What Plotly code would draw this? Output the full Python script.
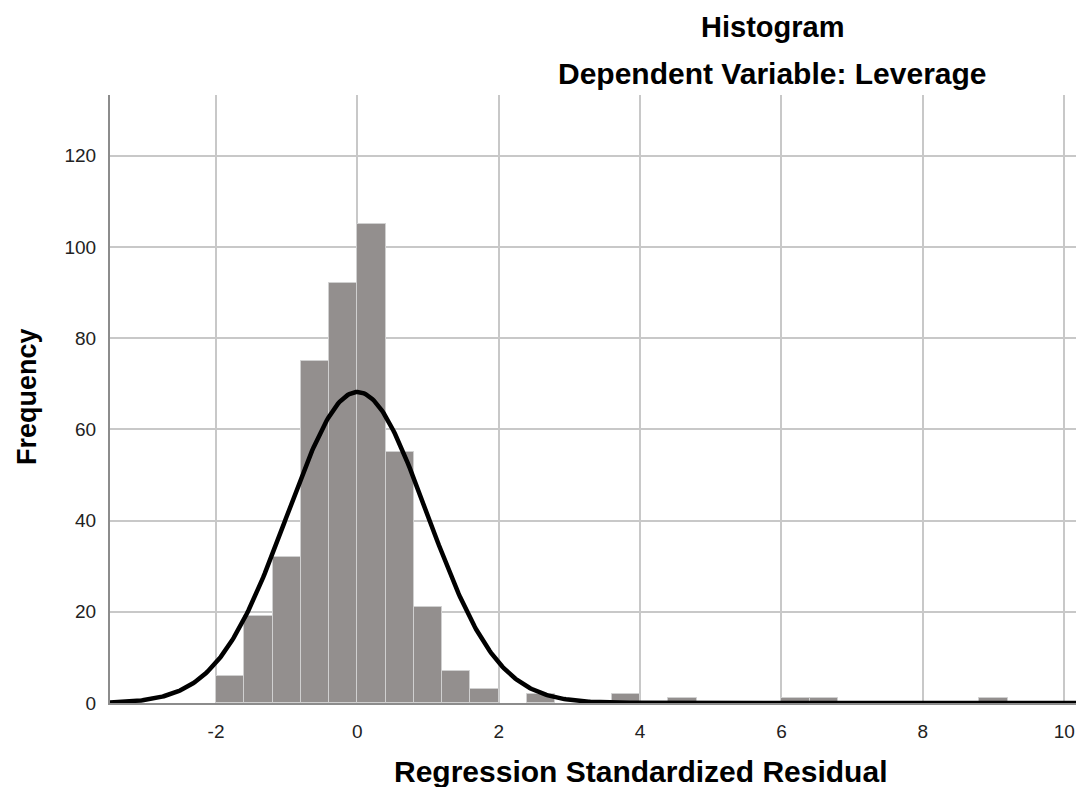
import numpy as np
import plotly.graph_objects as go

# Histogram data (bin centers, width 0.4)
bin_centers = [-1.8, -1.4, -1.0, -0.6, -0.2, 0.2, 0.6, 1.0, 1.4, 1.8, 2.6, 3.8, 4.6, 6.2, 6.6, 9.0]
counts = [6, 19, 32, 75, 92, 105, 55, 21, 7, 3, 2, 2, 1, 1, 1, 1]
bin_width = 0.4

# Normal curve parameters
resid_mean = 0.0
resid_sd = 0.99
n_obs = sum(counts)

x_ticks = [-2, 0, 2, 4, 6, 8, 10]
y_ticks = [0, 20, 40, 60, 80, 100, 120]

xs = np.linspace(-3.5, 10.3, 600)
ys = n_obs * bin_width / (resid_sd * np.sqrt(2 * np.pi)) * np.exp(-0.5 * ((xs - resid_mean) / resid_sd) ** 2)

fig = go.Figure()
fig.add_trace(go.Bar(
    x=bin_centers, y=counts, width=bin_width,
    marker=dict(color="#938f8e", line=dict(color="#d0d0d0", width=1)),
    showlegend=False, hoverinfo="x+y",
))
fig.add_trace(go.Scatter(
    x=xs, y=ys, mode="lines", line=dict(color="black", width=4.5),
    showlegend=False, hoverinfo="skip",
))

font_family = "Liberation Sans, Arial, sans-serif"
# page body has an 8px margin; plot area in page pixels: x 110..1084, y 95..703
L, T, B = 102, 87, 84
W, H = 1076, 779
PX0, PX1, PY0, PY1 = 110, 1084, 95, 703


def px2paper(px, py):
    return (px - PX0) / (PX1 - PX0), (PY1 - py) / (PY1 - PY0)


annots = []
for text, px, py, size, angle in [
    ("<b>Histogram</b>", 772, 27, 29, 0),
    ("<b>Dependent Variable: Leverage</b>", 772, 74, 30, 0),
    ("<b>Regression Standardized Residual</b>", 640, 771, 30, 0),
    ("<b>Frequency</b>", 27, 397, 27, -90),
]:
    ax, ay = px2paper(px, py)
    annots.append(dict(text=text, x=ax, y=ay, xref="paper", yref="paper", showarrow=False,
                       xanchor="center", yanchor="middle", textangle=angle,
                       font=dict(size=size, color="black", family=font_family)))

fig.update_layout(
    width=W, height=H,
    margin=dict(l=L, r=0, t=T, b=B),
    plot_bgcolor="white", paper_bgcolor="white",
    bargap=0,
    font=dict(family=font_family, size=19, color="#222222"),
    xaxis=dict(
        range=[-3.5, 10.28], tickvals=x_ticks, ticktext=[str(v) for v in x_ticks],
        showgrid=True, gridcolor="#c8c8c8", gridwidth=1.5, zeroline=False,
        showline=True, linecolor="#8c8c8c", linewidth=2, ticks="", ticklabelstandoff=10,
    ),
    yaxis=dict(
        range=[0, 133.3], tickvals=y_ticks, ticktext=[str(v) for v in y_ticks],
        showgrid=True, gridcolor="#c8c8c8", gridwidth=1.5, zeroline=False,
        showline=True, linecolor="#8c8c8c", linewidth=2, ticks="", ticklabelstandoff=8,
    ),
    annotations=annots,
)

fig.write_html("out.html")
